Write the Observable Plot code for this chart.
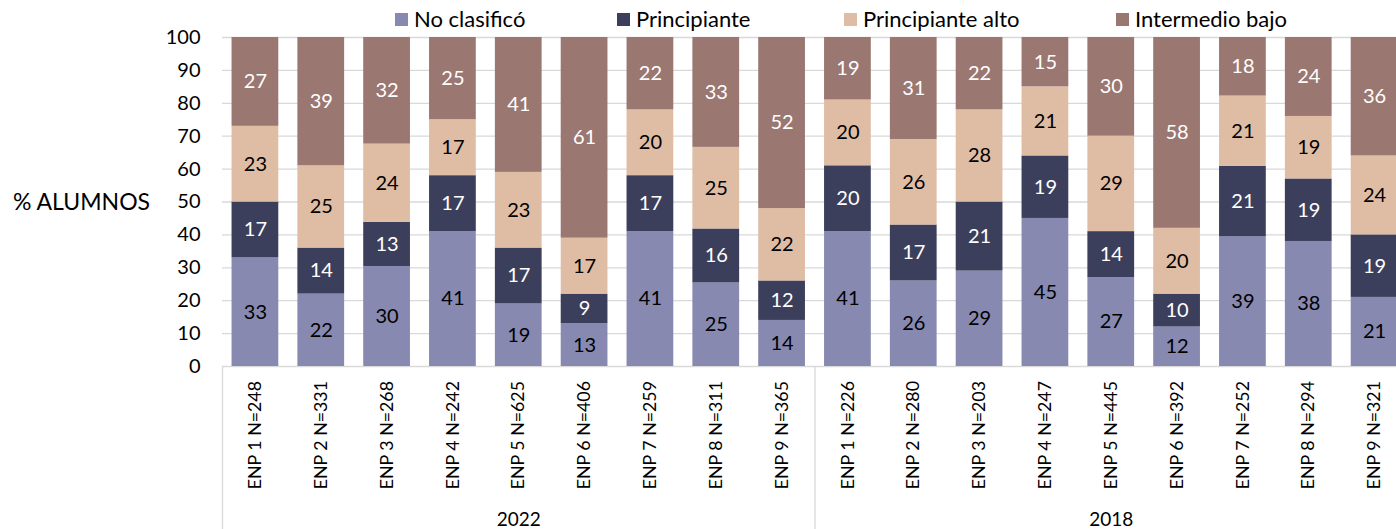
<!DOCTYPE html>
<html>
<head>
<meta charset="utf-8">
<script src="https://cdn.jsdelivr.net/npm/d3@7"></script>
<script src="https://cdn.jsdelivr.net/npm/@observablehq/plot@0.6"></script>
<style>
  html, body { margin: 0; padding: 0; background: #fff; }
  body { width: 1396px; height: 529px; overflow: hidden; font-family: Lato, "Open Sans", sans-serif; }
  #legend { position: relative; width: 1396px; height: 30px; }
  .item { position: absolute; top: 6px; display: flex; align-items: center; font-size: 22px; color: #000; line-height: 26px; white-space: nowrap; }
  .sw { width: 13px; height: 13px; margin-right: 6px; }
  #ytitle { position: absolute; left: 13px; top: 187px; font-size: 23px; color: #000; white-space: nowrap; }
  #chart svg { overflow: visible; }
</style>
</head>
<body>
<div id="legend"></div>
<div id="chart"></div>
<div id="ytitle">% ALUMNOS</div>
<script>
// ---- data ----
const years = ["2022", "2018"];
const schools = ["ENP 1", "ENP 2", "ENP 3", "ENP 4", "ENP 5", "ENP 6", "ENP 7", "ENP 8", "ENP 9"];
const n2022 = [248, 331, 268, 242, 625, 406, 259, 311, 365];
const n2018 = [226, 280, 203, 247, 445, 392, 252, 294, 321];
const levels = ["No clasificó", "Principiante", "Principiante alto", "Intermedio bajo"];
const colors = ["#8789b0", "#3c3f5c", "#dfbca4", "#9b7771"];
const labelColors = ["#000000", "#ffffff", "#000000", "#ffffff"];
// values per level, 2022 (ENP 1..9) then 2018 (ENP 1..9)
const noClasifico      = [33, 22, 30.4, 41, 19, 13, 41, 25.4, 14,   41, 26, 29, 45, 27, 12, 39.4, 38, 21];
const principiante     = [17, 14, 13.4, 17, 17,  9, 17, 16.4, 12,   20, 17, 21, 19, 14, 10, 21.4, 19, 19];
const principianteAlto = [23, 25, 23.8, 17, 23, 17, 20, 24.8, 22,   20, 26, 28, 21, 29, 20, 21.4, 19, 24];
const intermedioBajo   = [27, 39, 32.4, 25, 41, 61, 22, 33.4, 52,   19, 31, 22, 15, 30, 58, 17.8, 24, 36];
const yTicks = [0, 10, 20, 30, 40, 50, 60, 70, 80, 90, 100];

// ---- build table ----
const series = [noClasifico, principiante, principianteAlto, intermedioBajo];
const keys = [];
years.forEach((yr, yi) => {
  const ns = yi === 0 ? n2022 : n2018;
  schools.forEach((s, i) => keys.push(`${yr}|${s} N=${ns[i]}`));
});
const data = [];
keys.forEach((k, i) => {
  levels.forEach((lv, li) => {
    data.push({key: k, level: lv, li, value: series[li][i]});
  });
});
const groupCenters = years.map((yr, yi) => ({key: keys[yi * 9 + 4], label: yr}));
const groupStarts = years.map((yr, yi) => keys[yi * 9]);

// ---- legend ----
const legendLeft = [395, 617, 844, 1116];
const leg = document.getElementById("legend");
levels.forEach((lv, i) => {
  const it = document.createElement("div");
  it.className = "item";
  it.style.left = legendLeft[i] + "px";
  it.innerHTML = `<span class="sw" style="background:${colors[i]}"></span><span>${lv}</span>`;
  leg.appendChild(it);
});

// ---- chart ----
const W = 1396, H = 499;
const mL = 222, mR = -11, mT = 7, mB = 163;
const step = (W - mL - mR) / keys.length;
const font = "Lato, 'Open Sans', sans-serif";

const chart = Plot.plot({
  width: W,
  height: H,
  marginLeft: mL,
  marginRight: mR,
  marginTop: mT,
  marginBottom: mB,
  style: {fontFamily: font, background: "transparent", overflow: "visible"},
  x: {domain: keys, type: "band", paddingInner: 0.29, paddingOuter: 0.145, round: false, axis: null},
  y: {domain: [0, 100], axis: null},
  color: {domain: levels, range: colors},
  marks: [
    Plot.ruleY(yTicks, {stroke: "#d9d9d9", strokeWidth: 1.3}),
    Plot.barY(data, Plot.stackY({x: "key", y: "value", fill: "level", order: levels})),
    ...levels.map((lv, li) =>
      Plot.text(data, Plot.stackY({
        x: "key", y: "value", z: "level", order: levels,
        text: d => d.li === li ? String(Math.round(d.value)) : "",
        fill: labelColors[li], fontSize: 20, fontFamily: font
      }))
    ),
    Plot.axisY({ticks: yTicks, tickSize: 0, tickPadding: 22, fontSize: 20, fontFamily: font, color: "#000", label: null}),
    Plot.axisX({tickSize: 0, tickRotate: -90, tickPadding: 14.5, fontSize: 17.8, fontFamily: font, color: "#000", label: null,
      tickFormat: d => d.split("|")[1]}),
    Plot.ruleX(groupStarts, {x: d => d, dx: -step / 2, stroke: "#d9d9d9", strokeWidth: 1.3, insetTop: H - mT - mB, insetBottom: -mB}),
    Plot.text(groupCenters, {x: "key", text: "label", frameAnchor: "bottom", dy: 159, fontSize: 19, fontFamily: font, fill: "#000"})
  ]
});
document.getElementById("chart").appendChild(chart);
</script>
</body>
</html>
